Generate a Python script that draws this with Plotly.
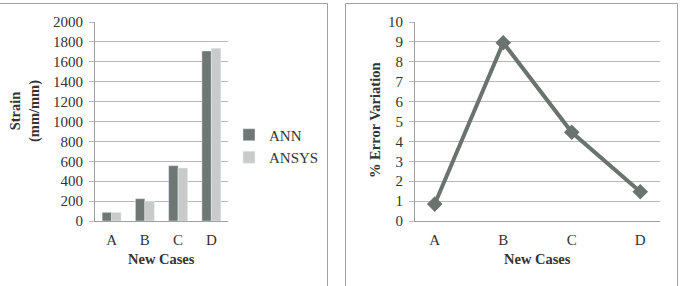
import plotly.graph_objects as go

W, H = 680, 286

categories = ["A", "B", "C", "D"]
ann_strain = [87, 224, 556, 1709]
ansys_strain = [87, 201, 533, 1736]
error_pct = [0.85, 8.96, 4.46, 1.47]

strain_ticks = [0, 200, 400, 600, 800, 1000, 1200, 1400, 1600, 1800, 2000]
error_ticks = list(range(0, 11))

FONT = "Liberation Serif, Times New Roman, serif"
TXT = "#333333"
GRID = "#b8b8b8"
AXIS = "#a0a0a0"
C_ANN = "#6e7773"
C_ANSYS = "#c8cbca"
C_LINE = "#6b736f"


def px(x):
    return x / W


def py(y):
    return 1 - y / H


fig = go.Figure()
fig.add_trace(go.Bar(x=categories, y=ann_strain, name="ANN", marker_color=C_ANN,
                     xaxis="x", yaxis="y"))
fig.add_trace(go.Bar(x=categories, y=ansys_strain, name="ANSYS", marker_color=C_ANSYS,
                     xaxis="x", yaxis="y"))
fig.add_trace(go.Scatter(x=categories, y=error_pct, mode="lines+markers", showlegend=False,
                         line=dict(color=C_LINE, width=4),
                         marker=dict(symbol="diamond", size=12, color=C_LINE),
                         xaxis="x2", yaxis="y2"))

ydom = [py(221), py(22)]
common_y = dict(showgrid=True, gridcolor=GRID, gridwidth=1, showline=True, linecolor=AXIS,
                linewidth=1, ticks="outside", ticklen=5, tickcolor=GRID, zeroline=False,
                automargin=False,
                tickfont=dict(family=FONT, size=15, color=TXT), ticklabelstandoff=3)
common_x = dict(showgrid=False, showline=True, linecolor=AXIS, linewidth=1, ticks="",
                automargin=False, ticklabelstandoff=5,
                tickfont=dict(family=FONT, size=15, color=TXT), type="category")

fig.update_layout(
    width=W, height=H, margin=dict(l=0, r=0, t=0, b=0, autoexpand=False),
    paper_bgcolor="white", plot_bgcolor="white",
    barmode="group", bargap=0.43, bargroupgap=0,
    xaxis=dict(domain=[px(95), px(228)], anchor="y", **common_x),
    yaxis=dict(domain=ydom, anchor="x", range=[0, 2000], tickvals=strain_ticks, **common_y),
    xaxis2=dict(domain=[px(415), px(660)], anchor="y2", **common_x),
    yaxis2=dict(domain=ydom, anchor="x2", range=[0, 10], tickvals=error_ticks, **common_y),
    legend=dict(x=px(229), y=py(146), xanchor="left", yanchor="middle",
                font=dict(family=FONT, size=15, color=TXT), bgcolor="rgba(0,0,0,0)",
                tracegroupgap=0, itemwidth=30),
    showlegend=True,
)

ann_font = dict(family=FONT, size=14.5, color=TXT)
for text, x, y, ang in [("<b>Strain<br>(mm/mm)</b>", 25, 111, -90),
                        ("<b>New Cases</b>", 161, 259, 0),
                        ("<b>% Error Variation</b>", 375, 121, -90),
                        ("<b>New Cases</b>", 537, 259, 0)]:
    fig.add_annotation(text=text, x=px(x), y=py(y), xref="paper", yref="paper",
                       xanchor="center", yanchor="middle", textangle=ang,
                       showarrow=False, font=ann_font)

# panel borders
border = dict(color="#a0a0a0", width=1)
for (x0, y0, x1, y1) in [(0, 3.5, 327.5, 3.5), (327.5, 3.5, 327.5, 286),
                         (345.5, 3.5, 677.5, 3.5), (345.5, 3.5, 345.5, 286),
                         (677.5, 3.5, 677.5, 286)]:
    fig.add_shape(type="line", xref="paper", yref="paper", x0=px(x0), y0=py(y0),
                  x1=px(x1), y1=py(y1), line=border)

fig.write_html("out.html")
